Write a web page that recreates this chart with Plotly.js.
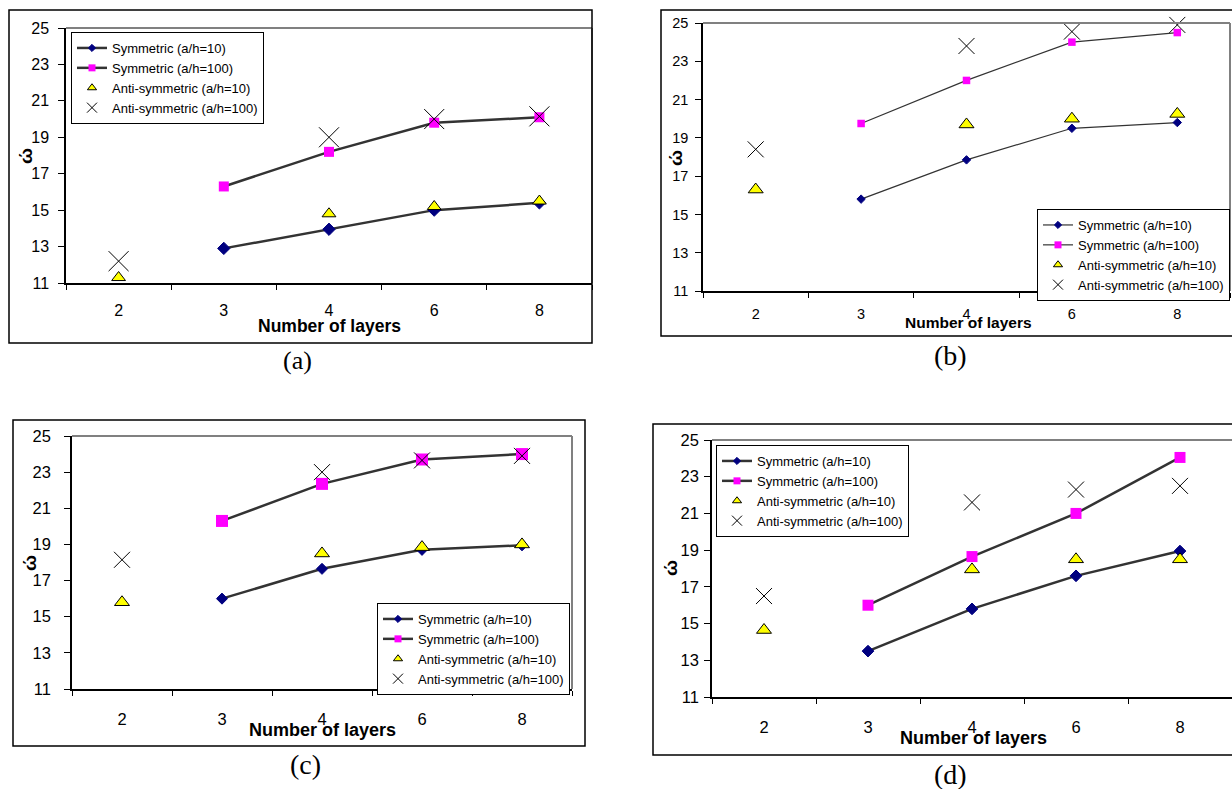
<!DOCTYPE html>
<html><head><meta charset="utf-8">
<script src="https://cdn.plot.ly/plotly-3.0.1.min.js"></script>
<style>html,body{margin:0;padding:0;background:#fff;overflow:hidden;} #chart{width:1232px;height:789px;}</style>
</head><body><div id="chart"></div>
<script>
// ---------------- DATA ----------------
const categories = ['2', '3', '4', '6', '8'];
const symLayers = ['3', '4', '6', '8'];
const antiLayers = ['2', '4', '6', '8'];
const seriesNames = ['Symmetric (a/h=10)', 'Symmetric (a/h=100)', 'Anti-symmetric (a/h=10)', 'Anti-symmetric (a/h=100)'];
const panelLabels = ['(a)', '(b)', '(c)', '(d)'];
const xAxisTitle = 'Number of layers';
const yAxisTitle = 'ώ';

// panel (a)
const symA10 = [12.9, 13.95, 15.0, 15.4];
const symA100 = [16.3, 18.2, 19.8, 20.1];
const antiA10 = [11.3, 14.8, 15.2, 15.5];
const antiA100 = [12.2, 19.0, 20.0, 20.15];
// panel (b)
const symB10 = [15.8, 17.85, 19.5, 19.8];
const symB100 = [19.75, 22.0, 24.0, 24.5];
const antiB10 = [16.3, 19.7, 20.0, 20.25];
const antiB100 = [18.4, 23.8, 24.55, 24.9];
// panel (c)
const symC10 = [16.0, 17.65, 18.7, 18.95];
const symC100 = [20.3, 22.35, 23.7, 24.0];
const antiC10 = [15.8, 18.5, 18.85, 19.0];
const antiC100 = [18.15, 23.0, 23.65, 23.9];
// panel (d)
const symD10 = [13.5, 15.8, 17.6, 18.95];
const symD100 = [16.0, 18.65, 21.0, 24.05];
const antiD10 = [14.65, 17.95, 18.5, 18.5];
const antiD100 = [16.5, 21.6, 22.3, 22.5];

const panelSeries = [
  [symA10, symA100, antiA10, antiA100],
  [symB10, symB100, antiB10, antiB100],
  [symC10, symC100, antiC10, antiC100],
  [symD10, symD100, antiD10, antiD100]
];

// ---------------- STYLE / LAYOUT ----------------
const W = 1232, H = 789;
const px = v => v / W;
const py = v => 1 - v / H;
const FONT = 'Liberation Sans, Arial, sans-serif';
const SERIF = 'Liberation Serif, Times New Roman, serif';

const panels = [
  {plot: [66, 28, 592, 283], frame: [9, 10, 592, 343], legend: [71, 32], tick: 16, xstand: 12, ystand: 6,
   xtitle: [329, 326, 17.5], ytitle: [25, 156], label: [297, 360, 26], lw: 2.5, dia: 9.5, sq: 10, tri: 12, xs: 20},
  {plot: [703, 23, 1230, 291], frame: [661, 10, 1240, 336], legend: [1037, 209], tick: 14.5, xstand: 9, ystand: 4,
   xtitle: [968, 322, 15.5], ytitle: [675, 158], label: [950, 355, 28], lw: 1.2, dia: 6.5, sq: 7.5, tri: 13, xs: 16},
  {plot: [72, 436, 572, 689], frame: [13, 420, 585, 746], legend: [377, 603], tick: 16.5, xstand: 14, ystand: 10,
   xtitle: [322, 730, 18], ytitle: [29, 563], label: [305, 764, 28], lw: 2.5, dia: 8.5, sq: 12, tri: 13, xs: 16},
  {plot: [712, 440, 1233, 697], frame: [653, 424, 1240, 755], legend: [716, 445], tick: 16.5, xstand: 14, ystand: 2,
   xtitle: [973, 738, 18], ytitle: [670, 568], label: [950, 774, 28], lw: 2.5, dia: 9, sq: 11, tri: 13, xs: 16}
];
// small legend-symbol sizes (as in the reference legends)
const legendSizes = {dia: 5.5, sq: 7, tri: 8, xs: 10};

const traces = [];
const layout = {
  width: W, height: H,
  margin: {l: 0, r: 0, t: 0, b: 0},
  paper_bgcolor: '#fff', plot_bgcolor: '#fff',
  showlegend: true,
  font: {family: FONT, color: '#000'},
  shapes: [], annotations: []
};

function markerDefs(sz) {
  return [
    {symbol: 'diamond', size: sz.dia, color: '#000080', line: {color: '#000080', width: 1}},
    {symbol: 'square', size: sz.sq, color: '#FF00FF', line: {color: '#FF00FF', width: 0}},
    {symbol: 'triangle-up', size: sz.tri, color: '#FFFF00', line: {color: '#000', width: 1}},
    {symbol: 'x-thin-open', size: sz.xs, color: '#000', line: {color: '#000', width: 1}}
  ];
}

panels.forEach((p, i) => {
  const n = i === 0 ? '' : String(i + 1);
  const xa = 'x' + n, ya = 'y' + n;
  const leg = 'legend' + n;
  const data = panelSeries[i];
  const mk = markerDefs(p);
  const lmk = markerDefs(legendSizes);

  for (let s = 0; s < 4; s++) {
    const isSym = s < 2;
    traces.push({
      type: 'scatter',
      x: isSym ? symLayers : antiLayers,
      y: data[s],
      xaxis: xa, yaxis: ya,
      name: seriesNames[s],
      showlegend: false,
      mode: isSym ? 'lines+markers' : 'markers',
      line: {color: '#333333', width: p.lw},
      marker: mk[s],
      cliponaxis: false,
      hoverinfo: 'skip'
    });
  }
  // legend entries (no data points, only the key symbols)
  for (let s = 0; s < 4; s++) {
    const isSym = s < 2;
    traces.push({
      type: 'scatter', x: [null], y: [null], xaxis: xa, yaxis: ya,
      name: seriesNames[s], legend: leg, showlegend: true,
      mode: isSym ? 'lines+markers' : 'markers',
      line: {color: '#333333', width: p.lw},
      marker: lmk[s], hoverinfo: 'skip'
    });
  }

  const [x0, y0, x1, y1] = p.plot;
  layout['xaxis' + n] = {
    domain: [px(x0), Math.min(1, px(x1))],
    anchor: ya, type: 'category', categoryarray: categories, categoryorder: 'array',
    range: [-0.5, 4.5], tickson: 'boundaries', ticks: 'outside', ticklen: 5, tickwidth: 1,
    tickcolor: '#000', showline: true, linecolor: '#000', linewidth: 1.5, showgrid: false,
    zeroline: false, tickfont: {family: FONT, size: p.tick, color: '#000'},
    ticklabelstandoff: p.xstand, fixedrange: true
  };
  layout['yaxis' + n] = {
    domain: [py(y1), py(y0)], anchor: xa, range: [11, 25], tick0: 11, dtick: 2,
    ticks: 'outside', ticklen: 6, tickwidth: 1, tickcolor: '#000', showline: true,
    linecolor: '#000', linewidth: 1.5, showgrid: false, zeroline: false,
    tickfont: {family: FONT, size: p.tick, color: '#000'}, ticklabelstandoff: p.ystand,
    fixedrange: true
  };

  layout[leg] = {
    x: px(p.legend[0]), y: py(p.legend[1]), xanchor: 'left', yanchor: 'top',
    xref: 'paper', yref: 'paper',
    bgcolor: '#fff', bordercolor: '#000', borderwidth: 1,
    font: {family: FONT, size: 13, color: '#000'}, tracegroupgap: 0, itemclick: false, itemdoubleclick: false
  };

  // plot-area border (top & right, grey)
  layout.shapes.push({type: 'line', xref: 'paper', yref: 'paper', x0: px(x0), x1: px(x1), y0: py(y0), y1: py(y0),
    line: {color: '#808080', width: 2}});
  layout.shapes.push({type: 'line', xref: 'paper', yref: 'paper', x0: px(x1), x1: px(x1), y0: py(y0), y1: py(y1),
    line: {color: '#808080', width: 2}});
  // outer chart frame
  const f = p.frame;
  layout.shapes.push({type: 'rect', xref: 'paper', yref: 'paper', x0: px(f[0]), x1: px(f[2]), y0: py(f[3]), y1: py(f[1]),
    line: {color: '#000', width: 1.5}, fillcolor: 'rgba(0,0,0,0)', layer: 'above'});

  // axis titles
  layout.annotations.push({xref: 'paper', yref: 'paper', x: px(p.xtitle[0]), y: py(p.xtitle[1]),
    xanchor: 'center', yanchor: 'middle', showarrow: false, text: '<b>' + xAxisTitle + '</b>',
    font: {family: FONT, size: p.xtitle[2], color: '#000'}});
  layout.annotations.push({xref: 'paper', yref: 'paper', x: px(p.ytitle[0]), y: py(p.ytitle[1]),
    xanchor: 'center', yanchor: 'middle', showarrow: false, text: '<b>' + yAxisTitle + '</b>', textangle: -90,
    font: {family: FONT, size: 19, color: '#000'}});
  // panel label
  layout.annotations.push({xref: 'paper', yref: 'paper', x: px(p.label[0]), y: py(p.label[1]),
    xanchor: 'center', yanchor: 'middle', showarrow: false, text: panelLabels[i],
    font: {family: SERIF, size: p.label[2], color: '#000'}});
});

Plotly.newPlot('chart', traces, layout, {displayModeBar: false, responsive: false});
</script></body></html>
